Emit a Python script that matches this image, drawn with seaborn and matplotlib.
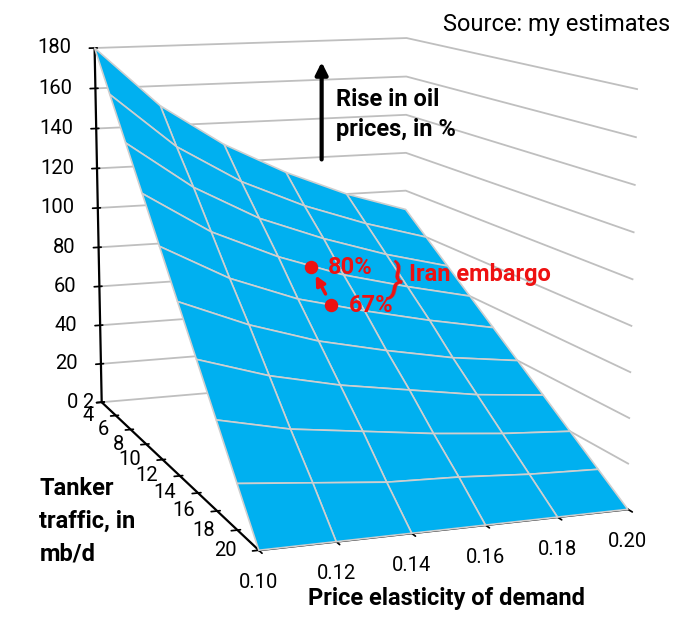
import numpy as np
import seaborn as sns
import matplotlib
matplotlib.use('Agg')
import matplotlib.pyplot as plt
from mpl_toolkits.mplot3d import proj3d

# Data
elasticity = [0.10, 0.12, 0.14, 0.16, 0.18, 0.20]
traffic = [2, 4, 6, 8, 10, 12, 14, 16, 18, 20]
# rise in oil prices (%), one row per traffic level, one column per elasticity
rise = [
    [180, 150, 129, 113, 100, 90],
    [160, 133, 114, 100, 89, 80],
    [140, 117, 100, 88, 78, 70],
    [120, 100, 86, 75, 67, 60],
    [100, 83, 71, 63, 56, 50],
    [80, 67, 57, 50, 44, 40],
    [60, 50, 43, 38, 33, 30],
    [40, 33, 29, 25, 22, 20],
    [20, 17, 14, 13, 11, 10],
    [0, 0, 0, 0, 0, 0],
]
z_ticks = [0, 20, 40, 60, 80, 100, 120, 140, 160, 180]

embargo_elasticity = [0.15, 0.15]
embargo_traffic = [8, 10]
embargo_rise = [80, 67]
embargo_labels = ['80%', '67%']

RED = '#EE1111'
BLUE = '#00B0F0'
TICK_FS = 14.5

sns.set_theme(style='white', rc={'axes.edgecolor': 'black', 'text.color': 'black',
                                 'xtick.color': 'black', 'ytick.color': 'black'})
plt.rcParams['font.family'] = ['Roboto', 'DejaVu Sans']

E, T = np.meshgrid(elasticity, traffic)
Z = np.array(rise, dtype=float)

fig = plt.figure(figsize=(6.8, 6.24), dpi=100)
ax = fig.add_axes([-0.111, 0.005, 1.2, 1.12], projection='3d')
ax.computed_zorder = False

ax.plot_surface(E, T, Z, color=BLUE, edgecolor='#CFCFCF', linewidth=1.2,
                shade=False, antialiased=True, zorder=1)

ax.set_xlim(0.10, 0.20)
ax.set_ylim(20, 2)
ax.set_zlim(0, 180)
ax.view_init(elev=10.6, azim=-110)
ax.set_proj_type('persp', focal_length=0.6)
ax.set_box_aspect((1.15, 1.8, 1.25), zoom=1.075)

# ticks from mpl, labels placed by hand in screen space (Excel style)
ax.set_xticks(elasticity)
ax.set_yticks(traffic)
ax.set_zticks(z_ticks)
ax.set_xticklabels([])
ax.set_yticklabels([])
ax.set_zticklabels([])

for axis in (ax.xaxis, ax.yaxis, ax.zaxis):
    axis.set_pane_color((1, 1, 1, 0))
    axis.pane.set_edgecolor((1, 1, 1, 0))
    axis.line.set_color('black')
    axis.line.set_linewidth(1.6)
ax.xaxis._axinfo['grid'].update(color=(1, 1, 1, 0), linewidth=0)
ax.yaxis._axinfo['grid'].update(color=(1, 1, 1, 0), linewidth=0)
ax.zaxis._axinfo['grid'].update(color='#BFBFBF', linewidth=1.3)

# Iran embargo markers
ax.scatter(embargo_elasticity, embargo_traffic, embargo_rise, color=RED, s=75,
           depthshade=False, zorder=5)

fig.canvas.draw()
M = ax.get_proj()


def to2d(e, t, z):
    x2, y2, _ = proj3d.proj_transform(e, t, z, M)
    return x2, y2


e0, t0 = elasticity[0], traffic[0]
for e in elasticity:
    ax.annotate(f'{e:.2f}', xy=to2d(e, traffic[-1], 0), xytext=(0, -32),
                textcoords='offset pixels', ha='center', va='center', fontsize=TICK_FS)
for t in traffic:
    dx = -8 if t == t0 else -22
    ax.annotate(str(t), xy=to2d(e0, t, 0), xytext=(dx, 0),
                textcoords='offset pixels', ha='right', va='center', fontsize=TICK_FS)
for z in z_ticks:
    ax.annotate(str(z), xy=to2d(e0, t0, z), xytext=(-23, 0),
                textcoords='offset pixels', ha='right', va='center', fontsize=TICK_FS)

pts = [to2d(e, t, z) for e, t, z in zip(embargo_elasticity, embargo_traffic, embargo_rise)]
for (px, py), lab in zip(pts, embargo_labels):
    ax.annotate(lab, xy=(px, py), xytext=(17, -1), textcoords='offset pixels',
                color=RED, fontsize=17, fontweight='bold', va='center', zorder=6)
ax.annotate('', xy=pts[0], xytext=pts[1],
            arrowprops=dict(arrowstyle='-|>', color=RED, lw=2.5,
                            mutation_scale=14, shrinkA=9, shrinkB=7), zorder=6)
ax.annotate('}', xy=pts[0], xytext=(85, -16), textcoords='offset pixels',
            color=RED, fontsize=31, rotation=-12, va='center', ha='center', zorder=6)
ax.annotate('Iran embargo', xy=pts[0], xytext=(98, -8), textcoords='offset pixels',
            color=RED, fontsize=17, fontweight='bold', va='center', zorder=6)

# Labels and notes
fig.text(0.985, 0.96, 'Source: my estimates', ha='right', va='center', fontsize=17)
fig.text(0.058, 0.165, 'Tanker\ntraffic, in\nmb/d', ha='left', va='center',
         fontsize=17, fontweight='bold', linespacing=1.55)
fig.text(0.657, 0.041, 'Price elasticity of demand', ha='center', va='center',
         fontsize=17, fontweight='bold')
fig.text(0.494, 0.816, 'Rise in oil\nprices, in %', ha='left', va='center',
         fontsize=17, fontweight='bold', linespacing=1.4)
fig.add_artist(matplotlib.patches.FancyArrowPatch(
    (0.473, 0.74), (0.473, 0.905), transform=fig.transFigure,
    arrowstyle='-|>', mutation_scale=18, color='black', lw=3))

fig.savefig('out.png', dpi=100)
